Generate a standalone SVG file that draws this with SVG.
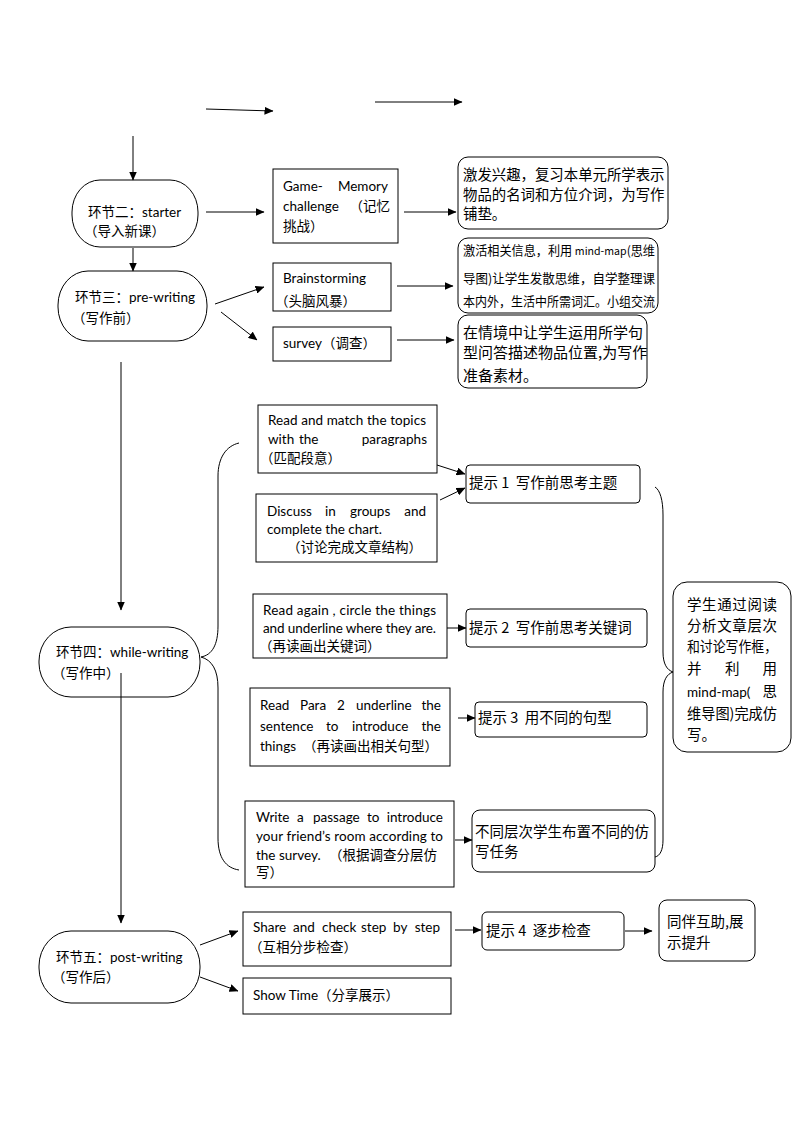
<svg xmlns="http://www.w3.org/2000/svg" width="794" height="1123" viewBox="0 0 794 1123">
<style>
text{white-space:pre}
.t{font-family:Lato,"Noto Sans CJK SC",sans-serif;font-size:13.5px;fill:#000}
.e{text-anchor:end}
.z{font-family:"Noto Sans CJK SC",sans-serif;fill:#000}
.b{fill:#fff;stroke:#000;stroke-width:1}
.c{fill:none;stroke:#000;stroke-width:1}
</style>
<defs>
<marker id="ah" markerWidth="9" markerHeight="8" refX="8.5" refY="4" orient="auto" markerUnits="userSpaceOnUse">
<path d="M0,0 L9,4 L0,8 Z" fill="#000"/>
</marker>
</defs>
<rect width="794" height="1123" fill="#fff"/>
<g id="starter">
<rect class="b" x="72" y="180" width="126" height="67" rx="28" ry="32"/>
<text class="t" x="88" y="217">环节二：starter</text>
<text class="t" x="84" y="236">（导入新课）</text>
</g>
<g id="game">
<rect class="b" x="273" y="169" width="125" height="74"/>
<text class="t" x="283" y="191">Game-</text>
<text class="t e" x="388" y="191">Memory</text>
<text class="t" x="283" y="211">challenge</text>
<text class="t e" x="390" y="211">（记忆</text>
<text class="t" x="283" y="231">挑战）</text>
</g>
<g id="goal1">
<rect class="b" x="458" y="157" width="210" height="72" rx="10"/>
<text class="z" font-size="14.4" x="463" y="180">激发兴趣，复习本单元所学表示</text>
<text class="z" font-size="14.4" x="463" y="200">物品的名词和方位介词，为写作</text>
<text class="z" font-size="14.4" x="463" y="219">铺垫。</text>
</g>
<g id="goal2">
<rect class="b" x="458" y="238" width="200" height="75" rx="10"/>
<text class="z" font-size="12.6" x="463" y="255" textLength="192" lengthAdjust="spacingAndGlyphs">激活相关信息，利用 <tspan font-size="11">mind-map</tspan>(思维</text>
<text class="z" font-size="12.8" x="463" y="283" textLength="192" lengthAdjust="spacingAndGlyphs">导图)让学生发散思维，自学整理课</text>
<text class="z" font-size="12.6" x="463" y="306" textLength="192" lengthAdjust="spacingAndGlyphs">本内外，生活中所需词汇。小组交流</text>
</g>
<g id="goal3">
<rect class="b" x="458" y="315" width="189" height="73" rx="10"/>
<text class="z" font-size="15" x="463" y="338">在情境中让学生运用所学句</text>
<text class="z" font-size="15" x="463" y="358">型问答描述物品位置,为写作</text>
<text class="z" font-size="15" x="463" y="381">准备素材。</text>
</g>
<g id="prewriting">
<rect class="b" x="58" y="271" width="149" height="70" rx="30" ry="34"/>
<text class="t" x="75" y="302">环节三：pre-writing</text>
<text class="t" x="72" y="323">（写作前）</text>
</g>
<g id="brainstorming">
<rect class="b" x="273" y="263" width="118" height="48"/>
<text class="t" x="283" y="283">Brainstorming</text>
<text class="t" x="275" y="306">（头脑风暴）</text>
</g>
<g id="survey">
<rect class="b" x="273" y="327" width="118" height="34"/>
<text class="t" x="283" y="348">survey（调查）</text>
</g>
<g id="match">
<rect class="b" x="258" y="405" width="179" height="68"/>
<text class="t" x="268" y="425" textLength="158" lengthAdjust="spacing">Read and match the topics</text>
<text class="t" x="268" y="444">with</text>
<text class="t" x="299" y="444">the</text>
<text class="t e" x="427" y="444">paragraphs</text>
<text class="t" x="260" y="463">（匹配段意）</text>
</g>
<g id="discuss">
<rect class="b" x="256" y="494" width="181" height="68"/>
<text class="t" x="267" y="516">Discuss</text>
<text class="t" x="325" y="516">in</text>
<text class="t" x="350" y="516">groups</text>
<text class="t e" x="426" y="516">and</text>
<text class="t" x="267" y="534">complete the chart.</text>
<text class="t" x="287" y="552">（讨论完成文章结构）</text>
</g>
<g id="tip1">
<rect class="b" x="466" y="465" width="174" height="38" rx="4"/>
<text class="z" font-size="14.5" x="469" y="488">提示 1  写作前思考主题</text>
</g>
<g id="whilewriting">
<rect class="b" x="39" y="627" width="161" height="70" rx="32" ry="34"/>
<text class="t" x="56" y="657">环节四：while-writing</text>
<text class="t" x="52" y="678">（写作中）</text>
</g>
<g id="readagain">
<rect class="b" x="253" y="594" width="194" height="64"/>
<text class="t" x="263" y="615" textLength="173" lengthAdjust="spacing">Read again , circle the things</text>
<text class="t" x="263" y="633" textLength="173" lengthAdjust="spacing">and underline where they are.</text>
<text class="t" x="259" y="651">（再读画出关键词）</text>
</g>
<g id="tip2">
<rect class="b" x="466" y="609" width="181" height="38" rx="4"/>
<text class="z" font-size="14.5" x="469" y="633">提示 2  写作前思考关键词</text>
</g>
<g id="readpara">
<rect class="b" x="250" y="688" width="200" height="78"/>
<text class="t" x="260" y="710">Read</text>
<text class="t" x="300" y="710">Para</text>
<text class="t" x="337" y="710">2</text>
<text class="t" x="356" y="710">underline</text>
<text class="t e" x="441" y="710">the</text>
<text class="t" x="260" y="731">sentence</text>
<text class="t" x="326" y="731">to</text>
<text class="t" x="352" y="731">introduce</text>
<text class="t e" x="441" y="731">the</text>
<text class="t" x="260" y="751">things  （再读画出相关句型）</text>
</g>
<g id="tip3">
<rect class="b" x="475" y="702" width="172" height="35" rx="4"/>
<text class="z" font-size="14.5" x="478" y="723">提示 3  用不同的句型</text>
</g>
<g id="writepassage">
<rect class="b" x="245" y="801" width="209" height="86"/>
<text class="t" x="256" y="822">Write</text>
<text class="t" x="297" y="822">a</text>
<text class="t" x="313" y="822">passage</text>
<text class="t" x="367" y="822">to</text>
<text class="t e" x="443" y="822">introduce</text>
<text class="t" x="256" y="841" textLength="187" lengthAdjust="spacing">your friend’s room according to</text>
<text class="t" x="256" y="860">the survey.</text>
<text class="t" x="329" y="860">（根据调查分层仿</text>
<text class="t" x="256" y="877">写）</text>
</g>
<g id="tiered">
<rect class="b" x="472" y="810" width="183" height="62" rx="8"/>
<text class="z" font-size="14.5" x="475" y="837">不同层次学生布置不同的仿</text>
<text class="z" font-size="14.5" x="475" y="857">写任务</text>
</g>
<g id="summary">
<rect class="b" x="673" y="582" width="118" height="170" rx="14"/>
<text class="z" font-size="14.5" x="687" y="610" textLength="90" lengthAdjust="spacing">学生通过阅读</text>
<text class="z" font-size="14.5" x="687" y="631" textLength="90" lengthAdjust="spacing">分析文章层次</text>
<text class="z" font-size="14.5" x="687" y="652" textLength="90" lengthAdjust="spacingAndGlyphs">和讨论写作框，</text>
<text class="z" font-size="14.5" x="687" y="674">并</text>
<text class="z" font-size="14.5" x="725" y="674">利</text>
<text class="z" font-size="14.5" text-anchor="end" x="777" y="674">用</text>
<text class="t" x="687" y="697">mind-map(</text>
<text class="z" font-size="14.5" text-anchor="end" x="777" y="697">思</text>
<text class="z" font-size="14.5" x="687" y="719" textLength="90" lengthAdjust="spacingAndGlyphs">维导图)完成仿</text>
<text class="z" font-size="14.5" x="687" y="740">写。</text>
</g>
<g id="postwriting">
<rect class="b" x="39" y="931" width="161" height="72" rx="32" ry="35"/>
<text class="t" x="56" y="962">环节五：post-writing</text>
<text class="t" x="52" y="982">（写作后）</text>
</g>
<g id="share">
<rect class="b" x="243" y="912" width="208" height="54"/>
<text class="t" x="253" y="932">Share</text>
<text class="t" x="293" y="932">and</text>
<text class="t" x="322" y="932">check</text>
<text class="t" x="361" y="932">step</text>
<text class="t" x="393" y="932">by</text>
<text class="t e" x="440" y="932">step</text>
<text class="t" x="249" y="952">（互相分步检查）</text>
</g>
<g id="showtime">
<rect class="b" x="243" y="978" width="208" height="36"/>
<text class="t" x="253" y="1000">Show Time（分享展示）</text>
</g>
<g id="tip4">
<rect class="b" x="482" y="912" width="142" height="38" rx="5"/>
<text class="z" font-size="14.5" x="486" y="936">提示 4  逐步检查</text>
</g>
<g id="peer">
<rect class="b" x="659" y="900" width="96" height="61" rx="8"/>
<text class="z" font-size="14.5" x="667" y="927">同伴互助,展</text>
<text class="z" font-size="14.5" x="667" y="948">示提升</text>
</g>
<g id="connectors">
<line class="c" x1="206" y1="109" x2="273" y2="111" marker-end="url(#ah)"/>
<line class="c" x1="375" y1="102" x2="462" y2="102" marker-end="url(#ah)"/>
<line class="c" x1="133" y1="136" x2="133" y2="180" marker-end="url(#ah)"/>
<line class="c" x1="206" y1="212" x2="264" y2="212" marker-end="url(#ah)"/>
<line class="c" x1="404" y1="212" x2="456" y2="212" marker-end="url(#ah)"/>
<line class="c" x1="133" y1="248" x2="133" y2="271" marker-end="url(#ah)"/>
<line class="c" x1="215" y1="304" x2="264" y2="287" marker-end="url(#ah)"/>
<line class="c" x1="221" y1="312" x2="257" y2="340" marker-end="url(#ah)"/>
<line class="c" x1="397" y1="286" x2="453" y2="286" marker-end="url(#ah)"/>
<line class="c" x1="397" y1="340" x2="454" y2="340" marker-end="url(#ah)"/>
<line class="c" x1="121" y1="362" x2="121" y2="610" marker-end="url(#ah)"/>
<line class="c" x1="121" y1="673" x2="121" y2="923" marker-end="url(#ah)"/>
<path class="c" d="M239,443 C226,446 218,458 218,476 L218,626 C218,645 212,655 201,657"/>
<path class="c" d="M201,657 C212,660 218,670 218,688 L218,838 C218,858 226,868 239,870"/>
<path class="c" d="M655,487 C660,490 663,500 663,515 L663,652 C663,664 667,670 673,672"/>
<path class="c" d="M673,672 C667,674 663,680 663,692 L663,840 C663,850 660,856 655,857"/>
<line class="c" x1="437" y1="465" x2="465" y2="474" marker-end="url(#ah)"/>
<line class="c" x1="440" y1="500" x2="465" y2="488" marker-end="url(#ah)"/>
<line class="c" x1="447" y1="628" x2="466" y2="628" marker-end="url(#ah)"/>
<line class="c" x1="458" y1="718" x2="475" y2="718" marker-end="url(#ah)"/>
<line class="c" x1="455" y1="840" x2="472" y2="840" marker-end="url(#ah)"/>
<line class="c" x1="200" y1="945" x2="238" y2="931" marker-end="url(#ah)"/>
<line class="c" x1="200" y1="977" x2="238" y2="991" marker-end="url(#ah)"/>
<line class="c" x1="455" y1="930" x2="481" y2="930" marker-end="url(#ah)"/>
<line class="c" x1="625" y1="931" x2="652" y2="931" marker-end="url(#ah)"/>
</g>
</svg>
